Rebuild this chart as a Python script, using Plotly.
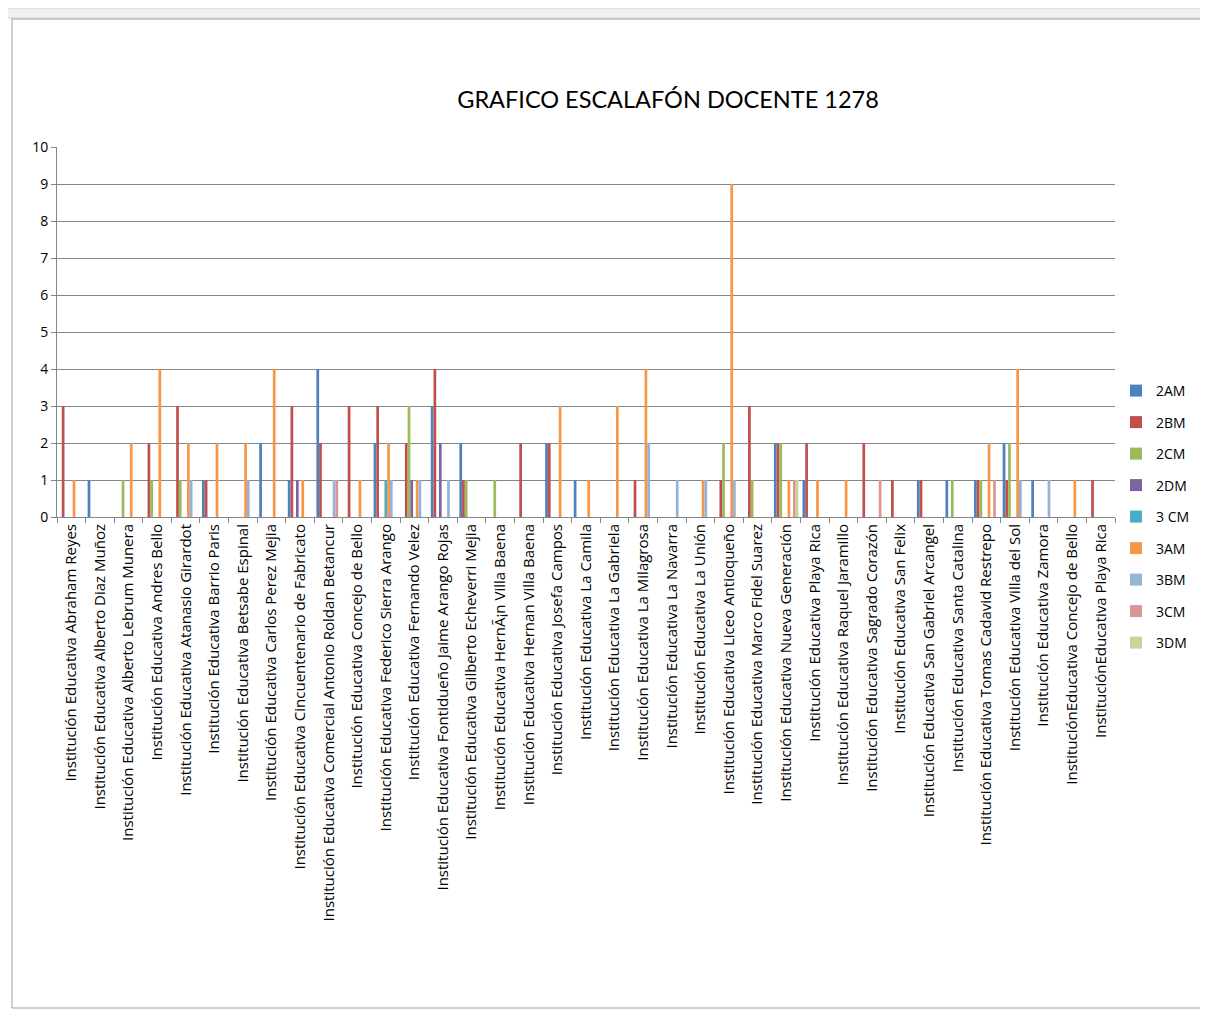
import plotly.graph_objects as go

categories = [
    "Institución Educativa Abraham Reyes",
    "Institución Educativa Alberto Diaz Muñoz",
    "Institución Educativa Alberto Lebrum Munera",
    "Institución Educativa Andres Bello",
    "Institución Educativa Atanasio Girardot",
    "Institución Educativa Barrio Paris",
    "Institución Educativa Betsabe Espinal",
    "Institución Educativa Carlos Perez Mejia",
    "Institución Educativa Cincuentenario de Fabricato",
    "Institución Educativa Comercial Antonio Roldan Betancur",
    "Institución Educativa Concejo de Bello",
    "Institución Educativa Federico Sierra Arango",
    "Institución Educativa Fernando Velez",
    "Institución Educativa Fontidueño Jaime Arango Rojas",
    "Institución Educativa Gilberto Echeverri Mejia",
    "Institución Educativa HernÃ¡n Villa Baena",
    "Institución Educativa Hernan Villa Baena",
    "Institución Educativa Josefa Campos",
    "Institución Educativa La Camila",
    "Institución Educativa La Gabriela",
    "Institución Educativa La Milagrosa",
    "Institución Educativa La Navarra",
    "Institución Educativa La Unión",
    "Institución Educativa Liceo Antioqueño",
    "Institución Educativa Marco Fidel Suarez",
    "Institución Educativa Nueva Generación",
    "Institución Educativa Playa Rica",
    "Institución Educativa Raquel Jaramillo",
    "Institución Educativa Sagrado Corazón",
    "Institución Educativa San Felix",
    "Institución Educativa San Gabriel Arcangel",
    "Institución Educativa Santa Catalina",
    "Institución Educativa Tomas Cadavid Restrepo",
    "Institución Educativa Villa del Sol",
    "Institución Educativa Zamora",
    "InstituciónEducativa Concejo de Bello",
    "InstituciónEducativa Playa Rica",
]

#            0  1  2  3  4  5  6  7  8  9 10 11 12 13 14 15 16 17 18 19 20 21 22 23 24 25 26 27 28 29 30 31 32 33 34 35 36
s_2AM  =   [0, 1, 0, 0, 0, 1, 0, 2, 1, 4, 0, 2, 0, 3, 2, 0, 0, 2, 1, 0, 0, 0, 0, 0, 0, 2, 1, 0, 0, 0, 1, 1, 1, 2, 1, 0, 0]
s_2BM  =   [3, 0, 0, 2, 3, 1, 0, 0, 3, 2, 3, 3, 2, 4, 1, 0, 2, 2, 0, 0, 1, 0, 0, 1, 3, 2, 2, 0, 2, 1, 1, 0, 1, 1, 0, 0, 1]
s_2CM  =   [0, 0, 1, 1, 1, 0, 0, 0, 0, 0, 0, 0, 3, 0, 1, 1, 0, 0, 0, 0, 0, 0, 0, 2, 1, 2, 0, 0, 0, 0, 0, 1, 1, 2, 0, 0, 0]
s_2DM  =   [0, 0, 0, 0, 0, 0, 0, 0, 1, 0, 0, 0, 1, 2, 0, 0, 0, 0, 0, 0, 0, 0, 0, 0, 0, 0, 0, 0, 0, 0, 0, 0, 0, 0, 0, 0, 0]
s_3_CM =   [0, 0, 0, 0, 0, 0, 0, 0, 0, 0, 0, 1, 0, 0, 0, 0, 0, 0, 0, 0, 0, 0, 0, 0, 0, 0, 0, 0, 0, 0, 0, 0, 0, 0, 0, 0, 0]
s_3AM  =   [1, 0, 2, 4, 2, 2, 2, 4, 1, 0, 1, 2, 1, 0, 0, 0, 0, 3, 1, 3, 4, 0, 1, 9, 0, 1, 1, 1, 0, 0, 0, 0, 2, 4, 0, 1, 0]
s_3BM  =   [0, 0, 0, 0, 1, 0, 1, 0, 0, 1, 0, 1, 1, 1, 0, 0, 0, 0, 0, 0, 2, 1, 1, 1, 0, 0, 0, 0, 0, 0, 0, 0, 0, 1, 1, 0, 0]
s_3CM  =   [0, 0, 0, 0, 0, 0, 0, 0, 0, 1, 0, 0, 0, 0, 0, 0, 0, 0, 0, 0, 0, 0, 0, 0, 0, 1, 0, 0, 1, 0, 0, 0, 1, 0, 0, 0, 0]
s_3DM  =   [0, 0, 0, 0, 0, 0, 0, 0, 0, 0, 0, 0, 0, 0, 0, 0, 0, 0, 0, 0, 0, 0, 0, 0, 0, 1, 0, 0, 0, 0, 0, 0, 0, 0, 0, 0, 0]

series_names = ["2AM", "2BM", "2CM", "2DM", "3 CM", "3AM", "3BM", "3CM", "3DM"]
series_values = [s_2AM, s_2BM, s_2CM, s_2DM, s_3_CM, s_3AM, s_3BM, s_3CM, s_3DM]
colors = ["#4F81BD", "#C0504D", "#9BBB59", "#8064A2", "#4BACC6",
          "#F79646", "#95B3D7", "#D99694", "#C3D69B"]

y_ticks = [0, 1, 2, 3, 4, 5, 6, 7, 8, 9, 10]

fig = go.Figure()
for i, (name, vals, col) in enumerate(zip(series_names, series_values, colors)):
    fig.add_trace(go.Bar(
        x=categories, y=vals, name=name,
        marker=dict(color=col, line=dict(width=0)),
        legendgroup=f"g{i}",
    ))

# the page body adds an 8px margin; positions below are page pixels minus that
OFF = 8
W, H = 1208 - 2 * OFF, 1017 - 2 * OFF
L, R, T, B = 57 - OFF, 1115 - OFF, 147 - OFF, 517 - OFF
pw, ph = R - L, B - T

def px(xp):
    return (xp - OFF - L) / pw

def py(yp):
    return (B - (yp - OFF)) / ph

FONT = "'Open Sans', Lato, sans-serif"

fig.update_layout(
    width=W, height=H,
    margin=dict(l=L, r=W - R, t=T, b=H - B, autoexpand=False),
    paper_bgcolor="white", plot_bgcolor="white",
    barmode="group", bargap=0.143, bargroupgap=0,
    font=dict(family=FONT, color="#000000"),
    title=dict(text="GRAFICO ESCALAFÓN DOCENTE 1278",
               x=(668 - OFF) / W, xanchor="center",
               y=1 - (100 - OFF) / H, yanchor="middle",
               font=dict(size=23.5, color="#000000", family="Lato, 'Open Sans', sans-serif")),
    legend=dict(x=px(1116), xanchor="left", y=py(375), yanchor="top",
                font=dict(size=14, family=FONT), tracegroupgap=10.3,
                itemwidth=30, bgcolor="rgba(0,0,0,0)"),
    showlegend=True,
)
fig.update_xaxes(
    type="category", tickangle=-90, tickfont=dict(size=15, family=FONT),
    showgrid=False, showline=True, linecolor="#868686", linewidth=1,
    ticks="outside", tickson="boundaries", ticklen=5, tickcolor="#868686",
    range=[-0.5, len(categories) - 0.5], automargin=False,
)
fig.update_yaxes(
    range=[0, 10], tickvals=y_ticks, tickfont=dict(size=14, family=FONT),
    showgrid=True, gridcolor="#868686", gridwidth=1,
    showline=True, linecolor="#868686", linewidth=1,
    ticks="outside", ticklen=5, tickcolor="#868686", zeroline=False,
    automargin=False,
)

# Excel sheet header strip and chart border
fig.add_shape(type="rect", xref="paper", yref="paper",
              x0=px(0), x1=px(1208), y0=py(18), y1=py(8),
              fillcolor="#F0F0F0", line=dict(color="#D0D0D0", width=1), layer="below")
fig.add_shape(type="rect", xref="paper", yref="paper",
              x0=px(12), x1=px(1205), y0=py(1008), y1=py(19),
              fillcolor="rgba(0,0,0,0)", line=dict(color="#A0A0A0", width=1), layer="below")

fig.write_html("out.html")
